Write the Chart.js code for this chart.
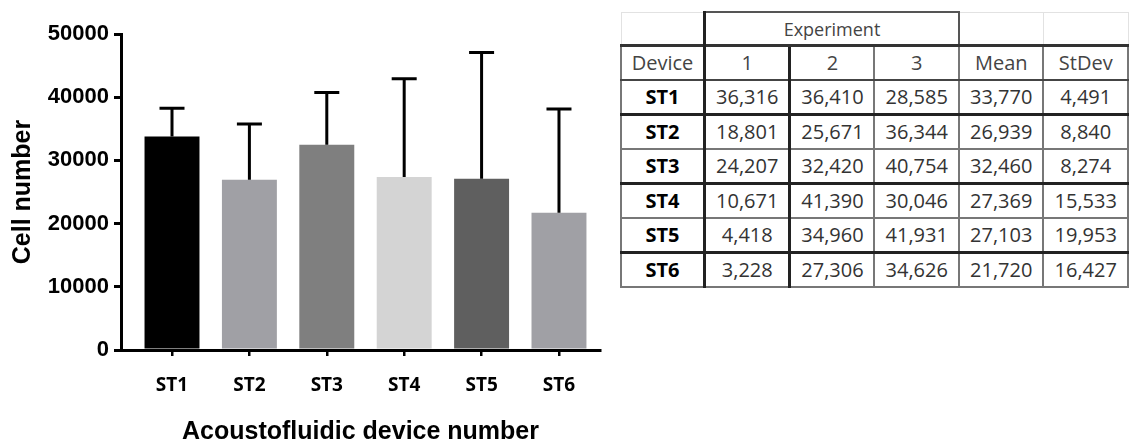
<!DOCTYPE html>
<html>
<head>
<meta charset="utf-8">
<script src="https://cdn.jsdelivr.net/npm/chart.js@4.4.1/dist/chart.umd.min.js"></script>
<style>
  html, body { margin: 0; padding: 0; background: #fff; overflow: hidden; }
  #wrap { position: absolute; left: 0; top: 0; width: 610px; height: 442px; }
  #cellTable {
    position: absolute; left: 620px; top: 11px;
    border-collapse: collapse; table-layout: fixed;
    font-family: "Open Sans", sans-serif; font-size: 20px; color: #333;
  }
  #cellTable td {
    text-align: center; vertical-align: middle; padding: 0;
    height: 32px; border: 2px solid #777; white-space: nowrap; line-height: 1;
  }
  #cellTable tr.head td { height: 31px; border-color: #e2e2e2; border-width: 1px; }
  #cellTable tr.head td.exp { border: 2px solid #555; border-left: 3px solid #222; font-size: 18px; color: #444; }
  #cellTable tr.cols td { border-top: 3px solid #333; border-bottom: 2px solid #444; color: #444; }
  #cellTable td.dev { font-weight: bold; color: #000; font-size: 20px; }
  #cellTable td.thick { border-left: 3px solid #222; }
  #cellTable tr.dark td { border-bottom: 3px solid #222; }
</style>
</head>
<body>
<div id="wrap"><canvas id="cellChart" width="610" height="442"></canvas></div>
<table id="cellTable">
  <colgroup>
    <col style="width:84px"><col style="width:86px"><col style="width:85px">
    <col style="width:85px"><col style="width:85px"><col style="width:85px">
  </colgroup>
  <tbody id="tableBody">
    <tr class="head"><td></td><td class="exp thick" colspan="3">Experiment</td><td></td><td></td></tr>
    <tr class="cols"><td>Device</td><td class="thick">1</td><td class="thick">2</td><td>3</td><td>Mean</td><td>StDev</td></tr>
  </tbody>
</table>
<script>
const devices = ['ST1', 'ST2', 'ST3', 'ST4', 'ST5', 'ST6'];
const exp1 = [36316, 18801, 24207, 10671, 4418, 3228];
const exp2 = [36410, 25671, 32420, 41390, 34960, 27306];
const exp3 = [28585, 36344, 40754, 30046, 41931, 34626];
const means = [33770, 26939, 32460, 27369, 27103, 21720];
const stdevs = [4491, 8840, 8274, 15533, 19953, 16427];
const yTicks = [0, 10000, 20000, 30000, 40000, 50000];

const barColors = ['#000000', '#a0a0a5', '#7f7f7f', '#d4d4d4', '#5f5f5f', '#a0a0a5'];

// Fill the table
const fmt = n => n.toLocaleString('en-US');
const tbody = document.getElementById('tableBody');
devices.forEach((d, i) => {
    const tr = document.createElement('tr');
    if (i % 2 === 0) tr.className = 'dark';
    tr.innerHTML = `
        <td class="dev">${d}</td>
        <td class="thick">${fmt(exp1[i])}</td>
        <td class="thick">${fmt(exp2[i])}</td>
        <td>${fmt(exp3[i])}</td>
        <td>${fmt(means[i])}</td>
        <td>${fmt(stdevs[i])}</td>`;
    tbody.appendChild(tr);
});

// Upward-only error bars (mean + SD)
const errorBars = {
    id: 'errorBars',
    afterDatasetsDraw(chart) {
        const ctx = chart.ctx;
        const yScale = chart.scales.y;
        const meta = chart.getDatasetMeta(0);
        ctx.save();
        ctx.strokeStyle = '#000';
        ctx.lineWidth = 3;
        meta.data.forEach((bar, i) => {
            const top = yScale.getPixelForValue(means[i] + stdevs[i]);
            ctx.beginPath();
            ctx.moveTo(bar.x, bar.y);
            ctx.lineTo(bar.x, top);
            ctx.moveTo(bar.x - 12.5, top);
            ctx.lineTo(bar.x + 12.5, top);
            ctx.stroke();
        });
        ctx.restore();
    }
};

const chartCtx = document.getElementById('cellChart').getContext('2d');
const cellChart = new Chart(chartCtx, {
    type: 'bar',
    data: {
        datasets: [{
            label: 'Cell number',
            data: devices.map((d, i) => ({ x: i, y: means[i] })),
            backgroundColor: barColors,
            borderWidth: 0,
            categoryPercentage: 1,
            barPercentage: 0.71
        }]
    },
    options: {
        responsive: false,
        animation: false,
        devicePixelRatio: 1,
        layout: { padding: { top: 34, right: 10, left: 0, bottom: 0 } },
        plugins: {
            legend: { display: false },
            tooltip: { enabled: false }
        },
        scales: {
            x: {
                type: 'linear',
                offset: false,
                min: -0.659,
                max: 5.53,
                afterBuildTicks: scale => {
                    scale.ticks = devices.map((d, i) => ({ value: i }));
                },
                afterFit: scale => { scale.height = 92; },
                ticks: {
                    callback: v => devices[v],
                    color: '#000',
                    padding: 18,
                    font: { family: 'Open Sans', weight: 'bold', size: 19 }
                },
                grid: {
                    offset: false,
                    drawOnChartArea: false,
                    drawTicks: true,
                    tickLength: 6,
                    color: '#000',
                    lineWidth: 2.5
                },
                border: { display: true, color: '#000', width: 3 },
                title: {
                    display: true,
                    text: 'Acoustofluidic device number',
                    color: '#000',
                    padding: { top: 0, bottom: -3 },
                    font: { family: 'Liberation Sans', weight: 'bold', size: 25, lineHeight: 1 }
                }
            },
            y: {
                min: 0,
                max: 50000,
                afterBuildTicks: scale => {
                    scale.ticks = yTicks.map(v => ({ value: v }));
                },
                afterFit: scale => { scale.width = 121; },
                ticks: {
                    callback: v => String(v),
                    color: '#000',
                    padding: 5,
                    font: { family: 'Liberation Sans', weight: 'bold', size: 22 }
                },
                grid: {
                    drawOnChartArea: false,
                    drawTicks: true,
                    tickLength: 7,
                    color: '#000',
                    lineWidth: 3
                },
                border: { display: true, color: '#000', width: 3 },
                title: {
                    display: true,
                    text: 'Cell number',
                    color: '#000',
                    padding: { top: 11, bottom: 0 },
                    font: { family: 'Liberation Sans', weight: 'bold', size: 25, lineHeight: 1 }
                }
            }
        }
    },
    plugins: [errorBars]
});
</script>
</body>
</html>
